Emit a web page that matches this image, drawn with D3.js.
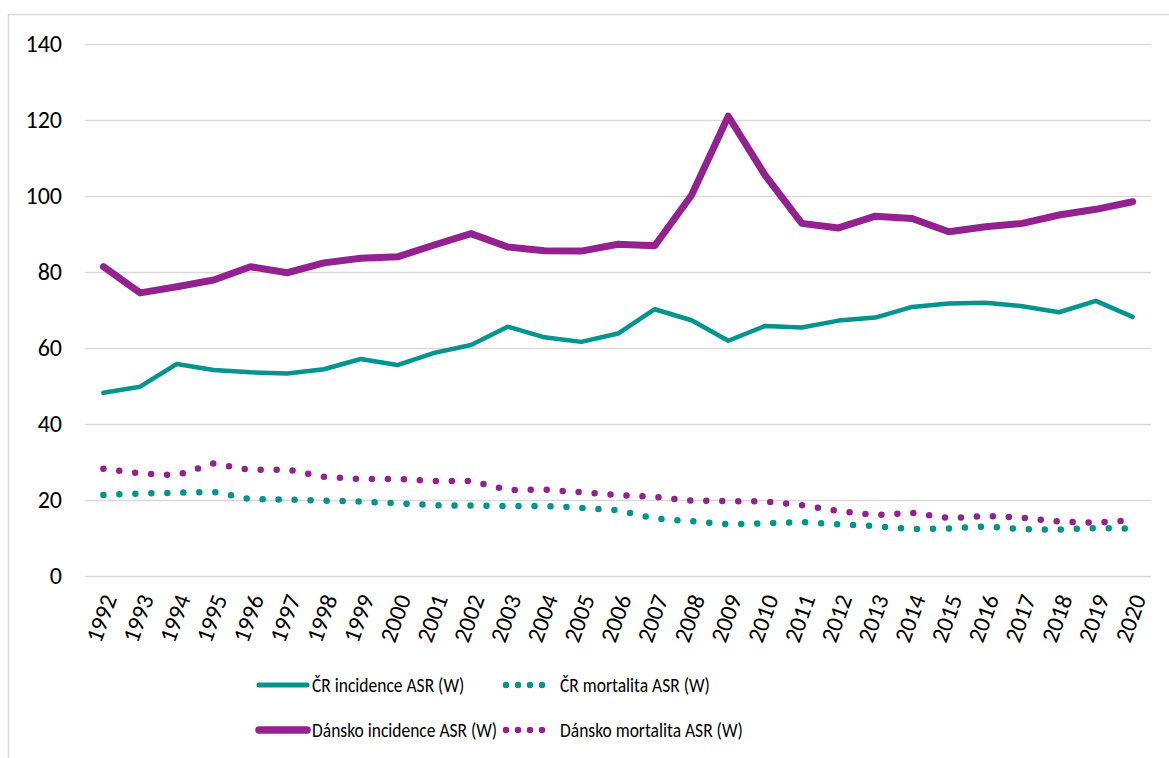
<!DOCTYPE html>
<html>
<head>
<meta charset="utf-8">
<script src="https://cdn.jsdelivr.net/npm/d3@7"></script>
<style>
  html, body { margin: 0; padding: 0; background: #fff; }
  svg { display: block; }
  text { font-family: Carlito, Calibri, Lato, "Open Sans", sans-serif; fill: #000; }
</style>
</head>
<body>
<svg id="chart" width="1169" height="758"></svg>
<script>
const years = ["1992","1993","1994","1995","1996","1997","1998","1999","2000","2001","2002","2003","2004","2005","2006","2007","2008","2009","2010","2011","2012","2013","2014","2015","2016","2017","2018","2019","2020"];
const crIncidence = [48.1,49.7,55.7,54.1,53.5,53.2,54.3,57.0,55.4,58.6,60.7,65.5,62.7,61.5,63.7,70.1,67.2,61.8,65.7,65.3,67.1,67.9,70.7,71.6,71.8,70.9,69.3,72.3,68.1];
const crMortality = [21.2,21.6,21.8,22.0,20.1,20.0,19.7,19.5,19.0,18.5,18.4,18.3,18.3,17.8,17.2,15.0,14.3,13.5,13.7,14.1,13.5,13.0,12.2,12.4,12.9,12.2,12.1,12.5,12.3];
const dkIncidence = [81.3,74.4,76.0,77.8,81.3,79.7,82.3,83.5,83.9,87.0,90.0,86.5,85.5,85.4,87.2,86.8,100.1,120.9,105.4,92.7,91.5,94.6,94.0,90.5,91.8,92.7,94.9,96.4,98.4];
const dkMortality = [28.1,26.9,26.4,29.5,27.8,27.9,26.0,25.4,25.4,24.9,24.9,22.5,22.6,21.9,21.2,20.7,19.7,19.6,19.5,18.5,17.0,15.9,16.5,15.1,15.7,15.2,14.2,13.9,14.6];
const yTicks = [0,20,40,60,80,100,120,140];
const seriesNames = ["ČR incidence ASR (W)","ČR mortalita ASR (W)","Dánsko incidence ASR (W)","Dánsko mortalita ASR (W)"];

const teal = "#00948f";
const purple = "#942190";

const series = [
  {name: seriesNames[0], values: crIncidence, color: teal, width: 4.5, dotted: false},
  {name: seriesNames[1], values: crMortality, color: teal, width: 6.5, dotted: true},
  {name: seriesNames[2], values: dkIncidence, color: purple, width: 7, dotted: false},
  {name: seriesNames[3], values: dkMortality, color: purple, width: 6.5, dotted: true}
];

const svg = d3.select("#chart");

// outer chart border
svg.append("rect")
  .attr("x", 8.5).attr("y", 14.5)
  .attr("width", 1200).attr("height", 800)
  .attr("fill", "none").attr("stroke", "#d9d9d9").attr("stroke-width", 1.5);

const x = d3.scaleBand().domain(years).range([85, 1151]);
const y = d3.scaleLinear().domain([0, 140]).range([575.5, 43.7]);

// gridlines
svg.append("g")
  .selectAll("line").data(yTicks).join("line")
  .attr("x1", 85).attr("x2", 1151)
  .attr("y1", d => Math.round(y(d)) + 0.5).attr("y2", d => Math.round(y(d)) + 0.5)
  .attr("stroke", "#d9d9d9").attr("stroke-width", 1.3);

// y axis labels
const yAxis = d3.axisLeft(y).tickValues(yTicks).tickSize(0).tickPadding(0);
const gy = svg.append("g").attr("transform", "translate(62,0)").call(yAxis);
gy.select(".domain").remove();
gy.selectAll("text").attr("font-size", 24).attr("font-family", "Carlito, Calibri, Lato, sans-serif").attr("fill", "#000");

// x axis labels
const xAxis = d3.axisBottom(x).tickSize(0).tickPadding(0);
const gx = svg.append("g").attr("transform", "translate(0,575.5)").call(xAxis);
gx.select(".domain").remove();
gx.selectAll("text")
  .attr("font-size", 24).attr("font-family", "Carlito, Calibri, Lato, sans-serif").attr("fill", "#000")
  .attr("text-anchor", "end")
  .attr("dy", "0.35em")
  .attr("transform", "translate(6,20) rotate(-70)")
  .attr("x", 0).attr("y", 0);

// lines
const line = d3.line()
  .x((d, i) => x(years[i]) + x.bandwidth() / 2)
  .y(d => y(d));

svg.append("g").selectAll("path").data(series).join("path")
  .attr("d", d => line(d.values))
  .attr("fill", "none")
  .attr("stroke", d => d.color)
  .attr("stroke-width", d => d.width)
  .attr("stroke-linecap", "round")
  .attr("stroke-linejoin", "round")
  .attr("stroke-dasharray", d => d.dotted ? "0 16" : null);

// legend
const legendItems = [
  {s: series[0], lx: 257, ly: 685},
  {s: series[1], lx: 503, ly: 685},
  {s: series[2], lx: 257, ly: 730},
  {s: series[3], lx: 503, ly: 730}
];
const lg = svg.append("g");
legendItems.forEach(it => {
  const g = lg.append("g");
  g.append("line")
    .attr("x1", it.lx + (it.s.dotted ? 3 : 2)).attr("x2", it.lx + (it.s.dotted ? 51 : 50))
    .attr("y1", it.ly).attr("y2", it.ly)
    .attr("stroke", it.s.color)
    .attr("stroke-width", it.s.dotted ? 6.5 : (it.s.width === 7 ? 7.5 : 5))
    .attr("stroke-linecap", "round")
    .attr("stroke-dasharray", it.s.dotted ? "0 12" : null);
  const tx = it.lx + (it.s.dotted ? 57 : 55);
  g.append("text")
    .attr("transform", `translate(${tx},${it.ly}) scale(1,1.12)`)
    .attr("dy", "0.35em")
    .attr("font-size", 17.5)
    .text(it.s.name);
});
</script>
</body>
</html>
